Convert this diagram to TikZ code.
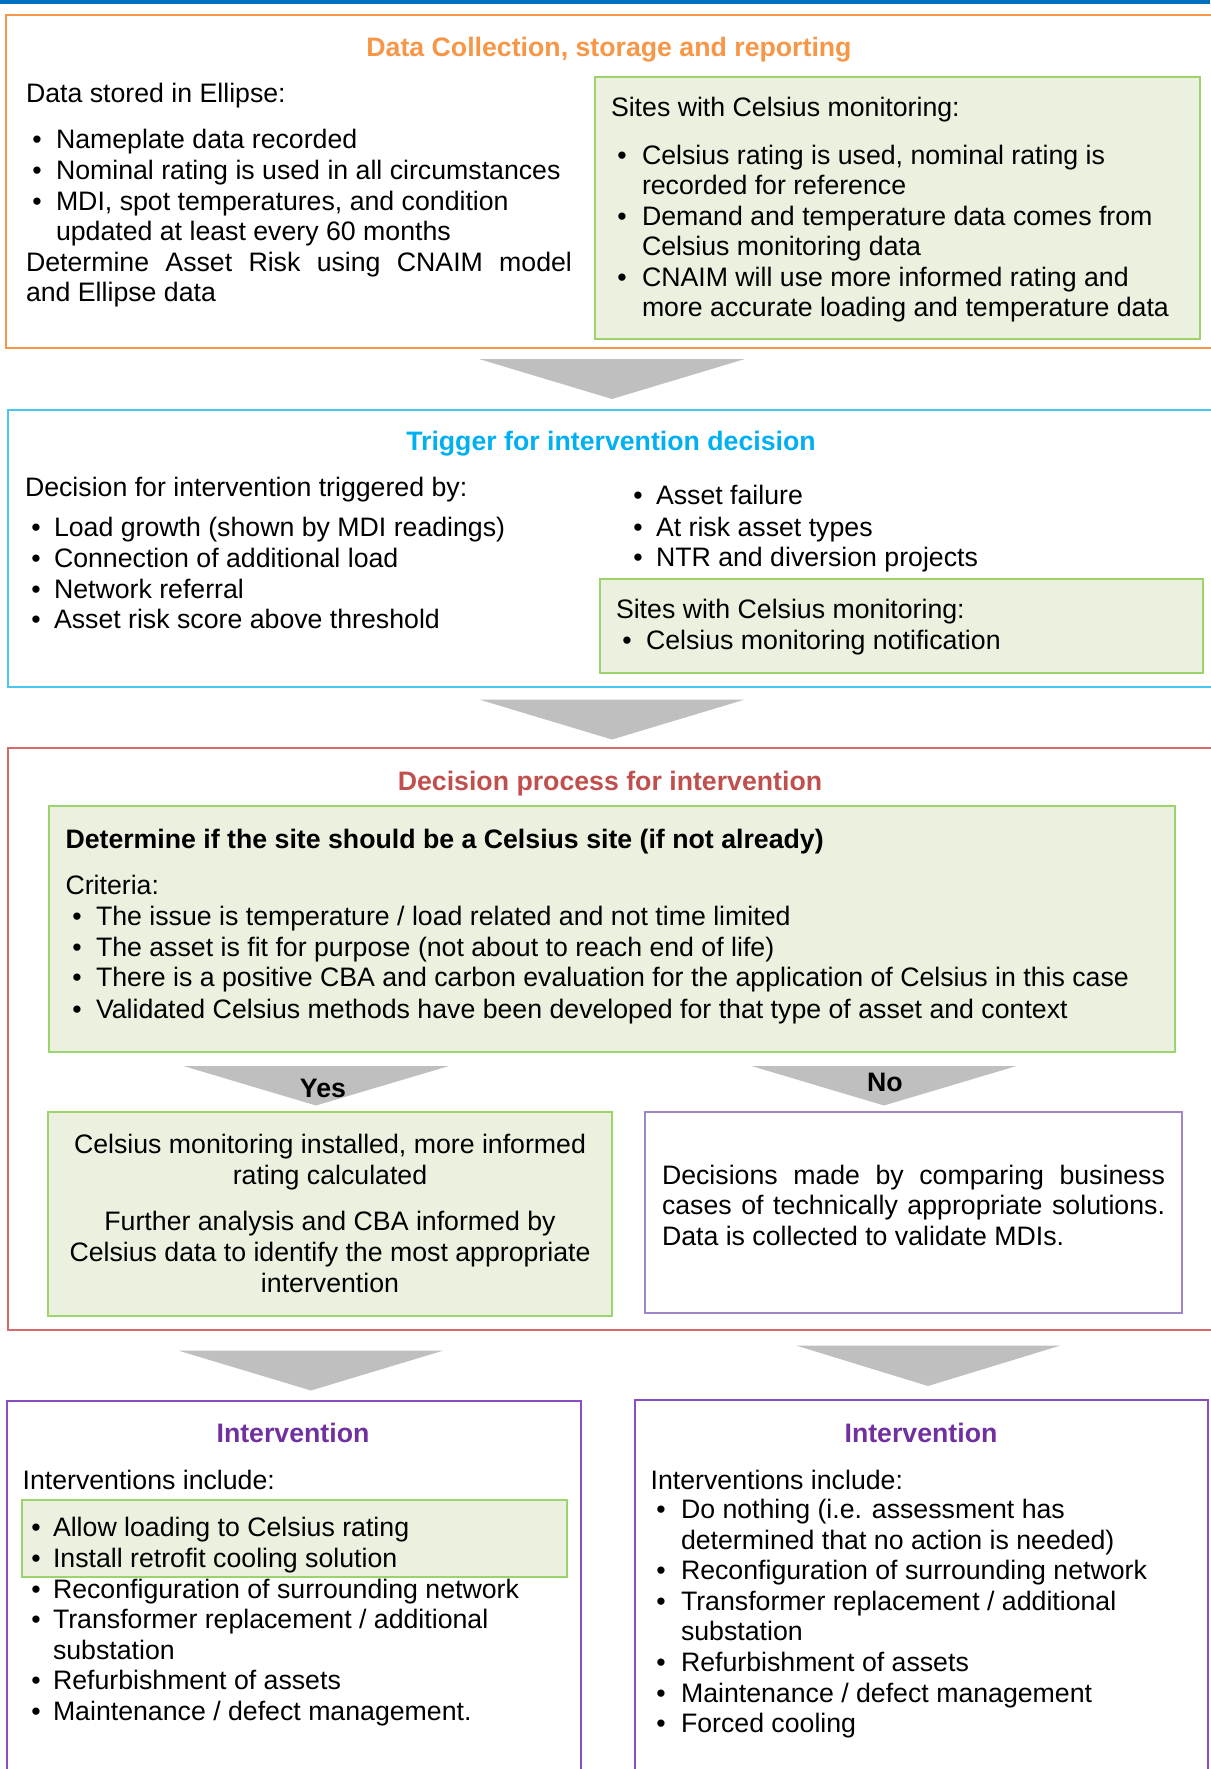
\documentclass[tikz,border=0pt]{standalone}
\usepackage{fontspec}
\setmainfont{Liberation Sans}
\definecolor{topblue}{HTML}{0070C0}
\definecolor{orng}{HTML}{F79646}
\definecolor{cyanb}{HTML}{4BC6F2}
\definecolor{cyant}{HTML}{00B0F0}
\definecolor{redb}{HTML}{D46A6A}
\definecolor{redt}{HTML}{C0504D}
\definecolor{grnb}{HTML}{9CD46C}
\definecolor{grnf}{HTML}{EBF1DE}
\definecolor{purb}{HTML}{8A4DC4}
\definecolor{purt}{HTML}{7030A0}
\definecolor{purl}{HTML}{9E86C8}
\definecolor{arrg}{HTML}{BFBFBF}
\tikzset{
  txt/.style={inner sep=0pt, outer sep=0pt, yshift=-7pt, font=\fontsize{26.7}{30.6}\selectfont},
  ttl/.style={txt, font=\fontsize{26.7}{30.6}\selectfont\bfseries, anchor=mid},
  grnbox/.style={draw=grnb, fill=grnf, line width=2pt},
  sect/.style={line width=2pt},
  garrow/.style={fill=arrg, draw=none},
}
\newcommand\Ln[4]{\node[txt,anchor=mid west] (#1) at (#2,#3) {#4};}
\newcommand\Bu[5]{\node[txt,anchor=mid] (#1b) at (#2,#4) {\textbullet}; \node[txt,anchor=mid west] (#1) at (#3,#4) {#5};}
\newcommand\Jl[5]{\node[txt,anchor=mid west] (#1) at (#2,#3) {\makebox[#4pt][s]{#5}};}
\newcommand\Cl[4]{\node[txt,anchor=mid] (#1) at (#2,#3) {#4};}
\begin{document}
\begin{tikzpicture}[x=1pt,y=-1pt]
\useasboundingbox (0,0) rectangle (1210,1769);
\fill[topblue] (0,0) rectangle (1210,4);

% ---------- Section 1
\draw[sect,draw=orng] (1220,15) -- (6,15) -- (6,348) -- (1220,348);
\node[ttl,text=orng] (t1) at (609,47) {Data Collection, storage and reporting};
\Ln{a0}{26}{92.5}{Data stored in Ellipse:}
\Bu{a1}{37}{56}{139}{Nameplate data recorded}
\Bu{a2}{37}{56}{169.5}{Nominal rating is used in all circumstances}
\Bu{a3}{37}{56}{200.5}{MDI, spot temperatures, and condition}
\Ln{a4}{56}{231}{updated at least every 60 months}
\Jl{a5}{26}{261.5}{546}{Determine Asset Risk using CNAIM model}
\Ln{a6}{26}{292}{and Ellipse data}
\draw[grnbox] (595,77) rectangle (1200,339);
\Ln{g0}{611}{107}{Sites with Celsius monitoring:}
\Bu{g1}{622}{642}{154.5}{Celsius rating is used, nominal rating is}
\Ln{g2}{642}{185}{recorded for reference}
\Bu{g3}{622}{642}{215.5}{Demand and temperature data comes from}
\Ln{g4}{642}{246}{Celsius monitoring data}
\Bu{g5}{622}{642}{276.5}{CNAIM will use more informed rating and}
\Ln{g6}{642}{307}{more accurate loading and temperature data}

\coordinate (ar1a) at (479,359); \coordinate (ar1b) at (745,359); \coordinate (ar1c) at (612,399);
\fill[garrow] (ar1a) -- (ar1b) -- (ar1c) -- cycle;

% ---------- Section 2
\draw[sect,draw=cyanb] (1220,409.5) -- (8,409.5) -- (8,686.5) -- (1220,686.5);
\node[ttl,text=cyant] (t2) at (611,441) {Trigger for intervention decision};
\Ln{b0}{25}{487}{Decision for intervention triggered by:}
\Bu{b1}{36}{54}{526.5}{Load growth (shown by MDI readings)}
\Bu{b2}{36}{54}{558}{Connection of additional load}
\Bu{b3}{36}{54}{588.5}{Network referral}
\Bu{b4}{36}{54}{619}{Asset risk score above threshold}
\Bu{c1}{638}{656}{495}{Asset failure}
\Bu{c2}{638}{656}{526.5}{At risk asset types}
\Bu{c3}{638}{656}{557}{NTR and diversion projects}
\draw[grnbox] (599.5,578.5) rectangle (1202.5,672.5);
\Ln{h0}{616}{609}{Sites with Celsius monitoring:}
\Bu{h1}{627}{646}{639.5}{Celsius monitoring notification}

\coordinate (ar2a) at (479,699.5); \coordinate (ar2b) at (745,699.5); \coordinate (ar2c) at (612,739.5);
\fill[garrow] (ar2a) -- (ar2b) -- (ar2c) -- cycle;

% ---------- Section 3
\draw[sect,draw=redb] (1220,748) -- (8,748) -- (8,1330) -- (1220,1330);
\node[ttl,text=redt] (t3) at (610,781) {Decision process for intervention};
\draw[grnbox] (48.5,806) rectangle (1174.5,1052);
\node[txt,anchor=mid west,font=\fontsize{26.7}{30.6}\selectfont\bfseries] (d0) at (65.5,838.5) {Determine if the site should be a Celsius site (if not already)};
\Ln{d1}{65.5}{885}{Criteria:}
\Bu{d2}{77}{96}{916}{The issue is temperature / load related and not time limited}
\Bu{d3}{77}{96}{946.5}{The asset is fit for purpose (not about to reach end of life)}
\Bu{d4}{77}{96}{977}{There is a positive CBA and carbon evaluation for the application of Celsius in this case}
\Bu{d5}{77}{96}{1008.5}{Validated Celsius methods have been developed for that type of asset and context}

\coordinate (ya) at (183.5,1066); \coordinate (yb) at (449,1066); \coordinate (yc) at (316,1105.5);
\fill[garrow] (ya) -- (yb) -- (yc) -- cycle;
\node[ttl] (yes) at (323,1088) {Yes};
\coordinate (na) at (751.5,1066); \coordinate (nb) at (1016.5,1066); \coordinate (nc) at (884,1105.5);
\fill[garrow] (na) -- (nb) -- (nc) -- cycle;
\node[ttl] (no) at (885,1082) {No};

\draw[grnbox] (47.5,1111.5) rectangle (612,1316);
\Cl{e1}{330}{1143.7}{Celsius monitoring installed, more informed}
\Cl{e2}{330}{1175.3}{rating calculated}
\Cl{e3}{330}{1220.5}{Further analysis and CBA informed by}
\Cl{e4}{330}{1252}{Celsius data to identify the most appropriate}
\Cl{e5}{330}{1282.5}{intervention}

\draw[draw=purl,line width=2pt,fill=white] (645,1111.5) rectangle (1182,1312.5);
\Jl{f1}{662}{1174.5}{503}{Decisions made by comparing business}
\Jl{f2}{662}{1205}{503}{cases of technically appropriate solutions.}
\Ln{f3}{662}{1236}{Data is collected to validate MDIs.}

% ---------- Section 4
\coordinate (al1) at (178,1350.5); \coordinate (al2) at (443.5,1350.5); \coordinate (al3) at (311,1390.5);
\fill[garrow] (al1) -- (al2) -- (al3) -- cycle;
\coordinate (ar1) at (796,1345.5); \coordinate (ar2) at (1060.5,1345.5); \coordinate (ar3) at (928,1386);
\fill[garrow] (ar1) -- (ar2) -- (ar3) -- cycle;

\draw[draw=purb,line width=2pt] (6.5,1780) -- (6.5,1401) -- (580.5,1401) -- (580.5,1780);
\draw[draw=purb,line width=2pt] (634.5,1780) -- (634.5,1400) -- (1207.5,1400) -- (1207.5,1780);
\node[ttl,text=purt] (t4) at (293,1432.5) {Intervention};
\node[ttl,text=purt] (t5) at (921,1432.5) {Intervention};

\Ln{i0}{22.6}{1479.5}{Interventions include:}
\draw[grnbox] (21.5,1500) rectangle (566.5,1576.5);
\Bu{i1}{36}{53}{1526.5}{Allow loading to Celsius rating}
\Bu{i2}{36}{53}{1557.5}{Install retrofit cooling solution}
\Bu{i3}{36}{53}{1588.5}{Reconfiguration of surrounding network}
\Bu{i4}{36}{53}{1619}{Transformer replacement / additional}
\Ln{i5}{53}{1649.5}{substation}
\Bu{i6}{36}{53}{1680}{Refurbishment of assets}
\Bu{i7}{36}{53}{1710.5}{Maintenance / defect management.}

\Ln{j0}{650.7}{1479.5}{Interventions include:}
\Bu{j1}{661}{681}{1509}{Do nothing (i.e. assessment has}
\Ln{j2}{681}{1539.5}{determined that no action is needed)}
\Bu{j3}{661}{681}{1570}{Reconfiguration of surrounding network}
\Bu{j4}{661}{681}{1600.5}{Transformer replacement / additional}
\Ln{j5}{681}{1631}{substation}
\Bu{j6}{661}{681}{1662}{Refurbishment of assets}
\Bu{j7}{661}{681}{1692.5}{Maintenance / defect management}
\Bu{j8}{661}{681}{1723}{Forced cooling}
\end{tikzpicture}
\end{document}
